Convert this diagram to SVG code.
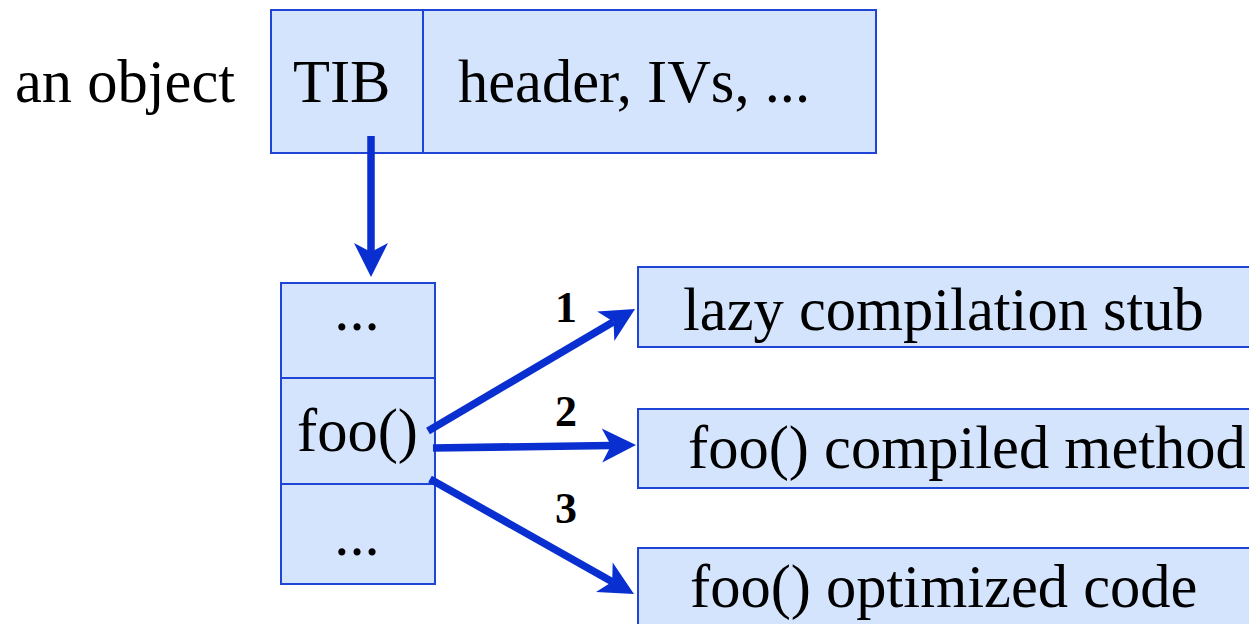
<svg xmlns="http://www.w3.org/2000/svg" width="1249" height="624" viewBox="0 0 1249 624">
<style>
.box{fill:#d4e4fd;stroke:#1f45d8;stroke-width:2}
.t{font-family:"Liberation Serif","Times New Roman",serif;font-size:60.5px;fill:#000}
.n{font-family:"Liberation Serif","Times New Roman",serif;font-size:44px;font-weight:bold;fill:#000;text-anchor:middle}
.c{stroke:#0a2fd0;stroke-width:7.5;fill:none;marker-end:url(#ah)}
</style>
<defs>
<marker id="ah" markerUnits="userSpaceOnUse" markerWidth="40" markerHeight="40" refX="9" refY="0" orient="auto" overflow="visible">
<path d="M0,-17 L34,0 L0,17 L9,0 Z" fill="#0a2fd0"/>
</marker>
</defs>
<text class="t" x="15" y="102">an object</text>
<g id="object">
<rect class="box" x="271" y="10" width="605" height="143"/>
<line x1="423" y1="10" x2="423" y2="153" stroke="#1f45d8" stroke-width="2"/>
<text class="t" x="293" y="102">TIB</text>
<text class="t" x="458" y="102">header, IVs, ...</text>
</g>
<g id="tib">
<rect class="box" x="281" y="283" width="154" height="301"/>
<line x1="281" y1="378" x2="435" y2="378" stroke="#1f45d8" stroke-width="2"/>
<line x1="281" y1="484" x2="435" y2="484" stroke="#1f45d8" stroke-width="2"/>
<text class="t" x="357" y="330" text-anchor="middle">...</text>
<text class="t" x="297" y="451">foo()</text>
<text class="t" x="357" y="555" text-anchor="middle">...</text>
</g>
<g id="stub">
<rect class="box" x="638" y="267" width="630" height="80"/>
<text class="t" x="683" y="330">lazy compilation stub</text>
</g>
<g id="compiled">
<rect class="box" x="638" y="409" width="630" height="79"/>
<text class="t" x="688" y="468">foo() compiled method</text>
</g>
<g id="optimized">
<rect class="box" x="638" y="548" width="630" height="100"/>
<text class="t" x="690" y="607">foo() optimized code</text>
</g>
<g id="connectors">
<line class="c" x1="371" y1="136" x2="371" y2="252"/>
<line class="c" x1="428" y1="431" x2="613.5" y2="321.7"/>
<line class="c" x1="433" y1="448" x2="611" y2="445.4"/>
<line class="c" x1="430" y1="479" x2="612.2" y2="581.7"/>
<text class="n" x="566" y="322">1</text>
<text class="n" x="566" y="426">2</text>
<text class="n" x="566" y="523">3</text>
</g>
</svg>
